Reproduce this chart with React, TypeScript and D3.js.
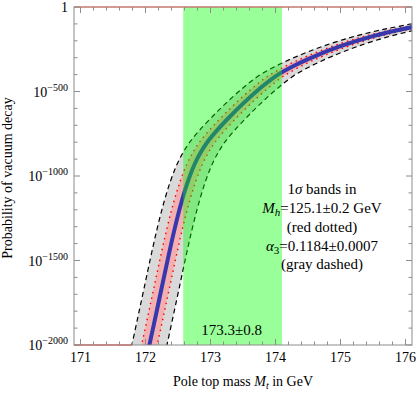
import React from "react";
import * as d3 from "d3";

// Central curve: log10 of the vacuum-decay probability vs pole top mass
const centralMt = [172.0, 172.06, 172.15, 172.25, 172.35, 172.45, 172.55, 172.65, 172.75, 172.85, 172.95, 173.1, 173.3, 173.5, 173.75, 174.0, 174.3, 174.6, 175.0, 175.5, 176.0, 176.4];
const centralLog10P = [-2108, -2000, -1840, -1660, -1480, -1310, -1160, -1035, -935, -860, -800, -730, -648, -572, -485, -410, -345, -292, -232, -172, -127, -98];

// 1-sigma bands expressed as half-widths in Mt
const mhBandHalfWidth = 0.12; // M_h = 125.1 ± 0.2 GeV (red dotted)
const alphaBandHalfWidth = 0.27; // alpha_3 = 0.1184 ± 0.0007 (gray dashed)

// Measured top mass band
const mtMeasured = 173.34;
const mtError = 0.76;

const xTicks = [171, 172, 173, 174, 175, 176];
const yTicks = [0, -500, -1000, -1500, -2000];
const yTickLabels = ["1", "−500", "−1000", "−1500", "−2000"];

const textLines = ["1σ bands in", "Mh", "(red dotted)", "a3", "(gray dashed)"];

const W = 417;
const H = 393;
const L = 74, R = 412, T = 7, B = 345;

export default function App() {
  const x = d3.scaleLinear().domain([170.9, 176.1]).range([L, R]);
  const y = d3.scaleLinear().domain([-2000, 0]).range([B, T]);

  const pts = centralMt.map((m, i) => ({ m, e: centralLog10P[i] }));
  const curve = d3.curveCatmullRom.alpha(0.5);

  const lineShift = (s: number) =>
    d3.line<{ m: number; e: number }>().x((d) => x(d.m + s)).y((d) => y(d.e)).curve(curve)(pts) || "";
  const band = (s: number) =>
    d3
      .area<{ m: number; e: number }>()
      .y((d) => y(d.e))
      .x0((d) => x(d.m - s))
      .x1((d) => x(d.m + s))
      .curve(curve)(pts) || "";

  const minorX = d3.range(171, 176.0001, 0.2).map((v) => +v.toFixed(2));
  const minorY = d3.range(-2000, 0.1, 100);

  const font = "'Liberation Serif', 'Times New Roman', serif";
  const tc = "#8c8c8c";

  const tickElems: React.ReactNode[] = [];
  minorX.forEach((v, i) => {
    const major = Math.abs(v - Math.round(v)) < 1e-6;
    const len = major ? 6 : 3.5;
    const xx = x(v);
    tickElems.push(<line key={"xb" + i} x1={xx} x2={xx} y1={B} y2={B - len} stroke={tc} strokeWidth={1} />);
    tickElems.push(<line key={"xt" + i} x1={xx} x2={xx} y1={T} y2={T + len} stroke={tc} strokeWidth={1} />);
  });
  minorY.forEach((v, i) => {
    const major = Math.abs(v % 500) < 1e-6;
    const len = major ? 6 : 3.5;
    const yy = y(v);
    tickElems.push(<line key={"yl" + i} x1={L} x2={L + len} y1={yy} y2={yy} stroke={tc} strokeWidth={1} />);
    tickElems.push(<line key={"yr" + i} x1={R} x2={R - len} y1={yy} y2={yy} stroke={tc} strokeWidth={1} />);
  });

  const grayLeftAtBottom = centralMt[1] - alphaBandHalfWidth;

  return (
    <svg width={W} height={H} style={{ position: "absolute", left: 0, top: 0, background: "#fff" }} fontFamily={font}>
      <defs>
        <clipPath id="plot">
          <rect x={L} y={T} width={R - L} height={B - T} />
        </clipPath>
      </defs>
      <g clipPath="url(#plot)">
        <path d={band(alphaBandHalfWidth)} fill="#d9d9d9" />
        <path d={band(mhBandHalfWidth)} fill="#f4b0b0" />
        <path d={lineShift(-alphaBandHalfWidth)} fill="none" stroke="#000" strokeWidth={1.2} strokeDasharray="5,3.5" />
        <path d={lineShift(alphaBandHalfWidth)} fill="none" stroke="#000" strokeWidth={1.2} strokeDasharray="5,3.5" />
        <path d={lineShift(-mhBandHalfWidth)} fill="none" stroke="#ff0000" strokeWidth={1.4} strokeDasharray="1.5,4" />
        <path d={lineShift(mhBandHalfWidth)} fill="none" stroke="#ff0000" strokeWidth={1.4} strokeDasharray="1.5,4" />
        <path d={lineShift(0)} fill="none" stroke="#3838ae" strokeWidth={4} />
        <rect
          x={x(mtMeasured - mtError)}
          y={T}
          width={x(mtMeasured + mtError) - x(mtMeasured - mtError)}
          height={B - T}
          fill="#00ff00"
          fillOpacity={0.4}
        />
      </g>
      <rect x={L} y={T} width={R - L} height={B - T} fill="none" stroke={tc} strokeWidth={1} />
      <line x1={L} x2={R} y1={T} y2={T} stroke="#e0705f" strokeWidth={1.2} />
      <line x1={L} x2={x(grayLeftAtBottom)} y1={B} y2={B} stroke="#c0504a" strokeWidth={1} />
      {tickElems}
      {xTicks.map((v) => (
        <text key={"xl" + v} x={x(v)} y={B + 17} fontSize={14} textAnchor="middle" fill="#000">
          {v}
        </text>
      ))}
      {yTicks.map((v, i) => (
        <text key={"yl" + v} x={L - 6} y={y(v) + 5} fontSize={14} textAnchor="end" fill="#000">
          {i === 0 ? (
            "1"
          ) : (
            <>
              <tspan>10</tspan>
              <tspan dy={-6} fontSize={10}>
                {yTickLabels[i]}
              </tspan>
            </>
          )}
        </text>
      ))}
      <text x={(L + R) / 2} y={386} fontSize={14} textAnchor="middle">
        Pole top mass <tspan fontStyle="italic">M</tspan>
        <tspan fontStyle="italic" fontSize={10} dy={3}>t</tspan>
        <tspan dy={-3}> in GeV</tspan>
      </text>
      <text transform={`translate(12,${(T + B) / 2 + 2}) rotate(-90)`} fontSize={14} textAnchor="middle">
        Probability of vacuum decay
      </text>
      <text x={x(mtMeasured) - 1} y={335} fontSize={15} textAnchor="middle">
        173.3±0.8
      </text>
      <g fontSize={15} textAnchor="middle">
        <text x={322} y={194}>
          1<tspan fontStyle="italic">σ</tspan> bands in
        </text>
        <text x={322} y={213}>
          <tspan fontStyle="italic">M</tspan>
          <tspan fontStyle="italic" fontSize={11} dy={3}>h</tspan>
          <tspan dy={-3}>=125.1±0.2 GeV</tspan>
        </text>
        <text x={322} y={232}>{textLines[2]}</text>
        <text x={322} y={250.5}>
          <tspan fontStyle="italic">α</tspan>
          <tspan fontSize={11} dy={3}>3</tspan>
          <tspan dy={-3}>=0.1184±0.0007</tspan>
        </text>
        <text x={322} y={269}>{textLines[4]}</text>
      </g>
    </svg>
  );
}
